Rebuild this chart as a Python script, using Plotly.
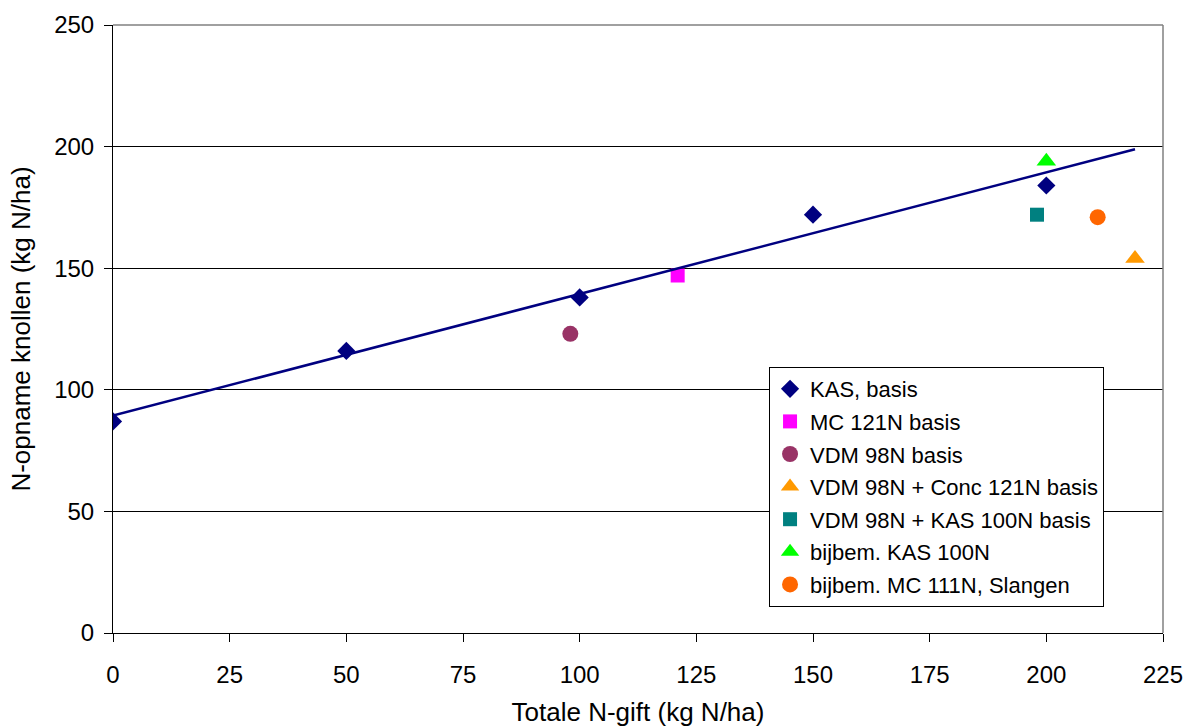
import numpy as np
import plotly.graph_objects as go

# KAS basis series (fertiliser rate vs. N uptake of tubers)
kas_x = [0, 50, 100, 150, 200]
kas_y = [87, 116, 138, 172, 184]

# Single-point treatments
treat_names = [
    "MC 121N basis",
    "VDM 98N basis",
    "VDM 98N + Conc 121N basis",
    "VDM 98N + KAS 100N basis",
    "bijbem. KAS 100N",
    "bijbem. MC 111N, Slangen",
]
treat_x = [121, 98, 219, 198, 200, 211]
treat_y = [147, 123, 154, 172, 194, 171]

x_ticks = [0, 25, 50, 75, 100, 125, 150, 175, 200, 225]
y_ticks = [0, 50, 100, 150, 200, 250]

styles = [
    dict(symbol="square", color="#FF00FF", size=14),
    dict(symbol="circle", color="#993366", size=16),
    dict(symbol="triangle-up", color="#FF9900", size=17),
    dict(symbol="square", color="#008080", size=14),
    dict(symbol="triangle-up", color="#00FF00", size=17),
    dict(symbol="circle", color="#FF6600", size=16),
]

FONT = "Liberation Sans, Arial, sans-serif"

fig = go.Figure()

fig.add_trace(go.Scatter(
    x=kas_x, y=kas_y, mode="markers", name="KAS, basis",
    legendgroup="g0",
    marker=dict(symbol="diamond", color="#000080", size=14),
))

for i, (name, sx, sy, st) in enumerate(zip(treat_names, treat_x, treat_y, styles)):
    fig.add_trace(go.Scatter(
        x=[sx], y=[sy], mode="markers", name=name,
        legendgroup=f"g{i+1}",
        marker=dict(symbol=st["symbol"], color=st["color"], size=st["size"]),
    ))

# Linear trend through the KAS basis points, drawn up to the largest N rate
slope, intercept = np.polyfit(kas_x, kas_y, 1)
trend_x = np.array([0, max(kas_x + treat_x)])
fig.add_trace(go.Scatter(
    x=trend_x, y=slope * trend_x + intercept, mode="lines",
    line=dict(color="#000080", width=2.5), showlegend=False, hoverinfo="skip",
))

fig.update_layout(
    width=1189, height=727,
    margin=dict(l=113, r=26, t=25, b=94),
    paper_bgcolor="white", plot_bgcolor="white",
    font=dict(family=FONT, size=24, color="black"),
    showlegend=True,
    legend=dict(
        x=0.6248, y=0.4375, xanchor="left", yanchor="top",
        bgcolor="white", bordercolor="black", borderwidth=1,
        font=dict(size=22, family=FONT, color="black"),
        tracegroupgap=1, itemwidth=30,
    ),
    xaxis=dict(
        range=[0, 225], tickvals=x_ticks, ticktext=[str(v) for v in x_ticks],
        showgrid=False, zeroline=False, automargin=False,
        showline=True, linecolor="black", linewidth=1,
        ticks="outside", ticklen=8, tickcolor="black", ticklabelstandoff=12,
        title=dict(text="Totale N-gift (kg N/ha)", standoff=22,
                   font=dict(size=26, family=FONT)),
        tickfont=dict(size=24, family=FONT),
    ),
    yaxis=dict(
        range=[0, 250], tickvals=y_ticks, ticktext=[str(v) for v in y_ticks],
        showgrid=True, gridcolor="black", gridwidth=1, zeroline=False,
        automargin=False,
        showline=True, linecolor="black", linewidth=1,
        ticks="outside", ticklen=8, tickcolor="black", ticklabelstandoff=5,
        title=dict(text="N-opname knollen (kg N/ha)", standoff=16,
                   font=dict(size=26, family=FONT)),
        tickfont=dict(size=24, family=FONT),
    ),
    shapes=[
        dict(type="line", xref="paper", yref="paper", x0=0, x1=1, y0=1, y1=1,
             line=dict(color="#808080", width=1.5)),
        dict(type="line", xref="paper", yref="paper", x0=1, x1=1, y0=0, y1=1,
             line=dict(color="#808080", width=1.5)),
    ],
)

fig.write_html("out.html")
